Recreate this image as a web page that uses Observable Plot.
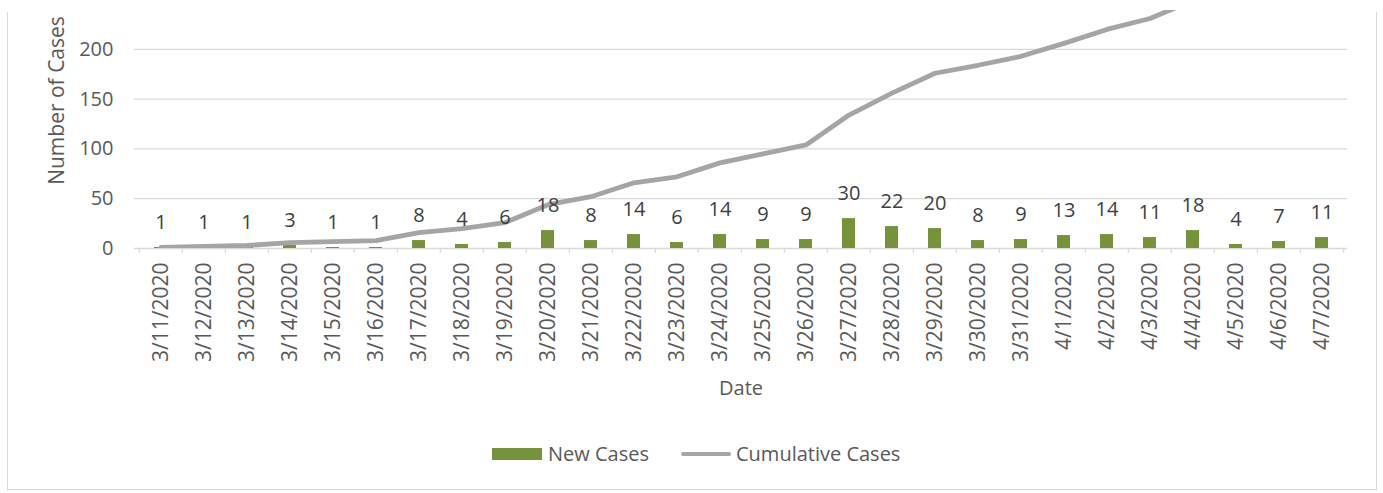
<!DOCTYPE html>
<html>
<head>
<meta charset="utf-8">
<script src="https://cdn.jsdelivr.net/npm/d3@7"></script>
<script src="https://cdn.jsdelivr.net/npm/@observablehq/plot@0.6"></script>
<style>
  html, body { margin: 0; padding: 0; background: #fff; }
  #wrap { position: relative; width: 1383px; height: 493px; overflow: hidden; font-family: "Open Sans", Lato, sans-serif; }
  #frame { position: absolute; left: 7px; top: 12px; width: 1368px; height: 477px; border: 1.5px solid #d9d9d9; border-top: none; box-sizing: content-box; }
  #chart { position: absolute; left: 0; top: 0; }
  #legend { position: absolute; left: 492px; top: 440px; display: flex; align-items: center; font-size: 20px; color: #595959; }
  .sw-bar { width: 50px; height: 12px; background: #76933c; margin-right: 6px; }
  .sw-line { width: 50px; height: 4px; border-radius: 2px; background: #a5a5a5; margin-left: 32px; margin-right: 5px; }
</style>
</head>
<body>
<div id="wrap">
  <div id="frame"></div>
  <div id="chart"></div>
  <div id="legend">
    <div class="sw-bar"></div><span>New Cases</span>
    <div class="sw-line"></div><span>Cumulative Cases</span>
  </div>
</div>
<script>
const dates = ["3/11/2020","3/12/2020","3/13/2020","3/14/2020","3/15/2020","3/16/2020","3/17/2020","3/18/2020","3/19/2020","3/20/2020","3/21/2020","3/22/2020","3/23/2020","3/24/2020","3/25/2020","3/26/2020","3/27/2020","3/28/2020","3/29/2020","3/30/2020","3/31/2020","4/1/2020","4/2/2020","4/3/2020","4/4/2020","4/5/2020","4/6/2020","4/7/2020"];
const newCases = [1,1,1,3,1,1,8,4,6,18,8,14,6,14,9,9,30,22,20,8,9,13,14,11,18,4,7,11];
const cumulativeCases = [1,2,3,6,7,8,16,20,26,44,52,66,72,86,95,104,134,156,176,184,193,206,220,231,249,253,260,271];
const yTicks = [0,50,100,150,200];

const rows = dates.map((d, i) => ({date: d, newCases: newCases[i], cumulative: cumulativeCases[i]}));

const W = 1383, H = 430, ML = 134, MR = 36, MT = 10, MB = 182;
const bw = (W - ML - MR) / dates.length;
const FONT = "'Open Sans', Lato, sans-serif";

const chart = Plot.plot({
  width: W, height: H,
  marginLeft: ML, marginRight: MR, marginTop: MT, marginBottom: MB,
  style: {fontFamily: FONT, fontSize: "20px", color: "#595959", background: "transparent", overflow: "visible"},
  x: {type: "band", domain: dates, padding: 0, label: null},
  y: {domain: [0, 239], label: null},
  marks: [
    Plot.gridY(yTicks.filter(t => t > 0), {stroke: "#d9d9d9", strokeOpacity: 1, strokeWidth: 1.2}),
    Plot.axisY(yTicks, {tickSize: 0, tickPadding: 21, label: null, fontSize: 20}),
    Plot.axisX({tickSize: 0, tickRotate: -90, tickPadding: 14, label: null, fontSize: 21}),
    Plot.ruleY([0], {stroke: "#d9d9d9", strokeWidth: 1.5}),
    Plot.ruleX(dates, {x: d => d, dx: -bw / 2, y1: 0, y2: -5, stroke: "#d9d9d9", strokeWidth: 1.2}),
    Plot.ruleX(dates.slice(-1), {x: d => d, dx: bw / 2, y1: 0, y2: -5, stroke: "#d9d9d9", strokeWidth: 1.2}),
    Plot.barY(rows, {x: "date", y: "newCases", fill: "#76933c", insetLeft: 15, insetRight: 15}),
    Plot.line(rows, {x: "date", y: "cumulative", stroke: "#a5a5a5", strokeWidth: 4.8, strokeLinejoin: "round", strokeLinecap: "round", clip: true}),
    Plot.text(rows, {x: "date", y: "newCases", text: d => String(d.newCases), dy: -25, lineAnchor: "middle", fill: "#404040", fontSize: 20}),
    Plot.text(["Number of Cases"], {frameAnchor: "left", textAnchor: "middle", dx: -77, dy: -29, rotate: -90, fill: "#595959", fontSize: 21}),
    Plot.text(["Date"], {frameAnchor: "bottom", dy: 140, lineAnchor: "middle", fill: "#595959", fontSize: 20})
  ]
});
document.getElementById("chart").appendChild(chart);
</script>
</body>
</html>
